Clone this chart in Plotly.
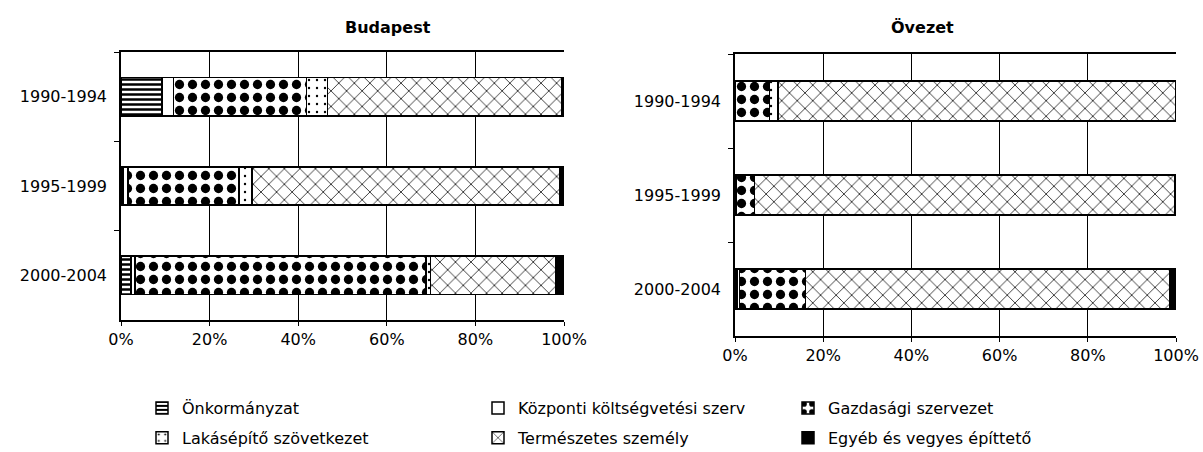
import plotly.graph_objects as go

periods = ["1990-1994", "1995-1999", "2000-2004"]
series_names = ["Önkormányzat", "Központi költségvetési szerv", "Gazdasági szervezet",
                "Lakásépítő szövetkezet", "Természetes személy", "Egyéb és vegyes építtető"]

# Budapest (% shares)
bp_onk = [9.2, 0.5, 2.2]
bp_kozp = [2.6, 1.1, 1.0]
bp_gazd = [30.1, 25.0, 65.6]
bp_lak = [4.7, 3.0, 1.1]
bp_term = [52.9, 69.5, 28.3]
bp_egyeb = [0.5, 0.9, 1.8]

# Övezet (% shares)
ov_onk = [0.0, 0.2, 0.5]
ov_kozp = [0.0, 0.0, 0.5]
ov_gazd = [7.8, 4.2, 15.0]
ov_lak = [2.0, 0.0, 0.0]
ov_term = [90.1, 95.3, 82.6]
ov_egyeb = [0.1, 0.3, 1.4]

tick_vals = [0, 20, 40, 60, 80, 100]
tick_text = ["0%", "20%", "40%", "60%", "80%", "100%"]

bp_data = [bp_onk, bp_kozp, bp_gazd, bp_lak, bp_term, bp_egyeb]
ov_data = [ov_onk, ov_kozp, ov_gazd, ov_lak, ov_term, ov_egyeb]

styles = [
    dict(color="white", pattern=dict(shape="-", fgcolor="black", bgcolor="white", fgopacity=1, size=5, solidity=0.5)),
    dict(color="white", pattern=dict(shape="", fgcolor="black", bgcolor="white")),
    dict(color="white", pattern=dict(shape=".", fgcolor="black", bgcolor="white", fgopacity=1, size=13, solidity=0.4)),
    dict(color="white", pattern=dict(shape=".", fgcolor="black", bgcolor="white", fgopacity=1, size=8, solidity=0.07)),
    dict(color="white", pattern=dict(shape="x", fgcolor="black", bgcolor="white", fgopacity=1, size=11, solidity=0.13)),
    dict(color="black", pattern=dict(shape="", fgcolor="black", bgcolor="black")),
]
legend_ids = ["legend", "legend2", "legend3", "legend", "legend2", "legend3"]

# the page body margin is removed below, so the figure fills the viewport
W, H = 1203, 452


def px(X):
    return X / W


def py(Y):
    return 1 - Y / H


FONT = "DejaVu Sans, Arial, sans-serif"
fig = go.Figure()

for i, name in enumerate(series_names):
    st = styles[i]
    for data, xa, ya, show in [(bp_data[i], "x", "y", True), (ov_data[i], "x2", "y2", False)]:
        fig.add_trace(go.Bar(
            y=periods, x=data, orientation="h", name=name,
            xaxis=xa, yaxis=ya, showlegend=show, legend=legend_ids[i],
            legendgroup=name,
            marker=dict(color=st["color"], pattern=st["pattern"],
                        line=dict(color="black", width=1.5)),
            hoverinfo="skip",
        ))

axis_x = dict(range=[0, 100], tickvals=tick_vals, ticktext=tick_text, automargin=False,
              ticklabeloverflow="allow",
              showgrid=True, gridcolor="black", gridwidth=1,
              showline=True, linecolor="black", linewidth=1.5, mirror=True,
              ticks="outside", ticklen=4, tickcolor="black",
              tickfont=dict(family=FONT, size=16, color="black"), zeroline=False)
axis_y = dict(categoryorder="array", categoryarray=periods, autorange="reversed", automargin=False,
              showline=True, linecolor="black", linewidth=1.5, showgrid=False,
              ticks="outside", ticklen=5, tickson="boundaries", tickcolor="black",
              tickfont=dict(family=FONT, size=16, color="black"), ticklabelstandoff=9)

legend_common = dict(font=dict(family=FONT, size=16, color="black"), orientation="v",
                     bgcolor="rgba(0,0,0,0)", itemwidth=30, tracegroupgap=6,
                     xanchor="left", yanchor="top", y=py(391), traceorder="grouped")

fig.update_layout(
    width=W, height=H,
    margin=dict(l=0, r=0, t=0, b=0, autoexpand=False),
    paper_bgcolor="white", plot_bgcolor="white",
    barmode="stack", bargap=0.57,
    xaxis=dict(domain=[px(121), px(564)], anchor="y", **axis_x),
    yaxis=dict(domain=[py(320), py(52)], anchor="x", **axis_y),
    xaxis2=dict(domain=[px(735), px(1176)], anchor="y2", **axis_x),
    yaxis2=dict(domain=[py(336), py(54)], anchor="x2", **axis_y),
    legend=dict(x=px(142), **legend_common),
    legend2=dict(x=px(478), **legend_common),
    legend3=dict(x=px(788), **legend_common),
    annotations=[
        dict(text="<b>Budapest</b>", x=px((121 + 564) / 2), y=py(27), xref="paper", yref="paper",
             yanchor="middle", showarrow=False, font=dict(family=FONT, size=16, color="black")),
        dict(text="<b>Övezet</b>", x=px((735 + 1176) / 2), y=py(27), xref="paper", yref="paper",
             yanchor="middle", showarrow=False, font=dict(family=FONT, size=16, color="black")),
    ],
)

fig.write_html("out.html", config={"displayModeBar": False},
               post_script="document.body.style.margin='0px';document.body.style.overflow='hidden';")
